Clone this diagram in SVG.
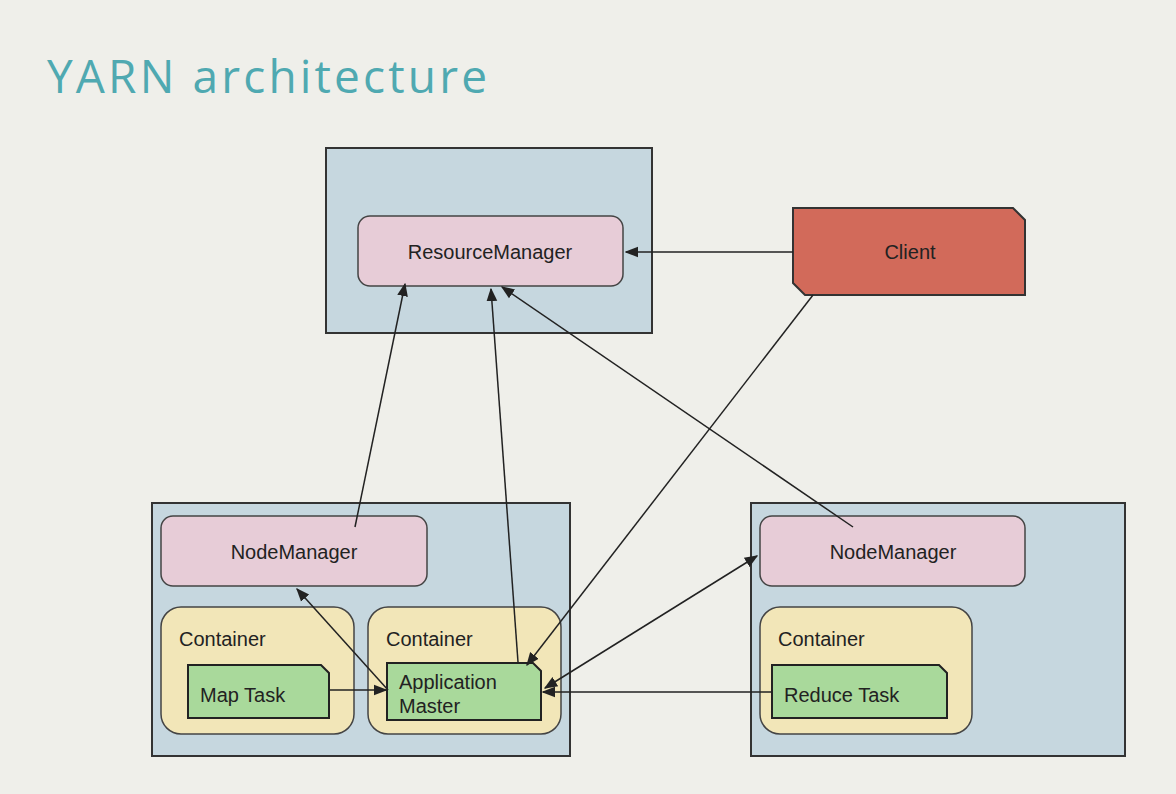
<svg xmlns="http://www.w3.org/2000/svg" width="1176" height="794" viewBox="0 0 1176 794">
<defs>
<marker id="ah" viewBox="0 0 10 10" refX="9" refY="5" markerWidth="9" markerHeight="9" orient="auto-start-reverse"><path d="M0,1 L10,5 L0,9 z" fill="#222"/></marker>
<style>
.host{fill:#c6d7df;stroke:#333;stroke-width:2}
.nm{fill:#e7ccd7;stroke:#444;stroke-width:1.5}
.ct{fill:#f2e6b8;stroke:#444;stroke-width:1.5}
.task{fill:#a9d99b;stroke:#222;stroke-width:2}
.t{font-family:"Liberation Sans",Arial,sans-serif;font-size:20px;fill:#222}
.c line{stroke:#222;stroke-width:1.5;marker-end:url(#ah)}
</style>
</defs>
<rect width="1176" height="794" fill="#efefea"/>
<text x="47" y="93" font-family="'Open Sans',sans-serif" font-size="46" fill="#4fa9b1" textLength="440" lengthAdjust="spacing">YARN architecture</text>
<g id="rmhost"><rect class="host" x="326" y="148" width="326" height="185"/></g>
<g id="rm"><rect class="nm" x="358" y="216" width="265" height="70" rx="12"/><text class="t" x="490" y="259" text-anchor="middle">ResourceManager</text></g>
<g id="client"><path d="M793,208 H1013 L1025,220 V295 H805 L793,283 Z" fill="#d26a5a" stroke="#333" stroke-width="2"/><text class="t" x="910" y="259" text-anchor="middle">Client</text></g>
<g id="host1"><rect class="host" x="152" y="503" width="418" height="253"/></g>
<g id="nm1"><rect class="nm" x="161" y="516" width="266" height="70" rx="12"/><text class="t" x="294" y="559" text-anchor="middle">NodeManager</text></g>
<g id="c1"><rect class="ct" x="161" y="607" width="193" height="127" rx="20"/><text class="t" x="179" y="646">Container</text></g>
<g id="map"><path class="task" d="M188,665 H321 L329,673 V718 H188 Z"/><text class="t" x="200" y="702">Map Task</text></g>
<g id="c2"><rect class="ct" x="368" y="607" width="193" height="127" rx="20"/><text class="t" x="386" y="646">Container</text></g>
<g id="am"><path class="task" d="M387,663 H533 L541,671 V720 H387 Z"/><text class="t" x="399" y="689">Application</text><text class="t" x="399" y="713">Master</text></g>
<g id="host2"><rect class="host" x="751" y="503" width="374" height="253"/></g>
<g id="nm2"><rect class="nm" x="760" y="516" width="265" height="70" rx="12"/><text class="t" x="893" y="559" text-anchor="middle">NodeManager</text></g>
<g id="c3"><rect class="ct" x="760" y="607" width="212" height="127" rx="20"/><text class="t" x="778" y="646">Container</text></g>
<g id="reduce"><path class="task" d="M772,665 H939 L947,673 V718 H772 Z"/><text class="t" x="784" y="702">Reduce Task</text></g>
<g id="connectors" class="c">
<line x1="793" y1="252" x2="626" y2="252"/>
<line x1="355" y1="527" x2="405" y2="284"/>
<line x1="518" y1="662" x2="491" y2="289"/>
<line x1="853" y1="527" x2="502" y2="287"/>
<line x1="813" y1="295" x2="527" y2="665"/>
<line x1="545" y1="688" x2="757" y2="556" style="marker-start:url(#ah)"/>
<line x1="388" y1="690" x2="297" y2="589"/>
<line x1="329" y1="690" x2="386" y2="690"/>
<line x1="772" y1="692" x2="543" y2="692"/>
</g>
</svg>
